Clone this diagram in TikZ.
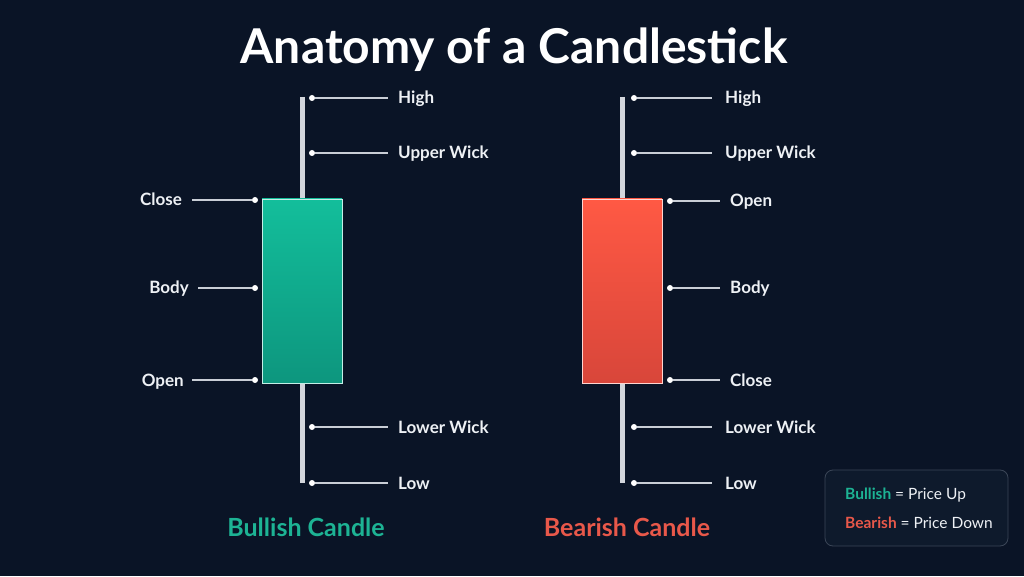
\documentclass[tikz,border=0pt]{standalone}
\usepackage{fontspec}
\setmainfont{Lato}
\usetikzlibrary{positioning}
\definecolor{cBg}{HTML}{0A1426}
\definecolor{cInk}{HTML}{EEF1F5}
\definecolor{cLine}{HTML}{C9CED6}
\definecolor{cWick}{HTML}{D3D6DC}
\definecolor{cBullTop}{HTML}{13BE9B}
\definecolor{cBullBot}{HTML}{0D967E}
\definecolor{cBearTop}{HTML}{FF5944}
\definecolor{cBearBot}{HTML}{D8463A}
\definecolor{cBull}{HTML}{1DB394}
\definecolor{cBear}{HTML}{E8584A}
\definecolor{cKeyEdge}{HTML}{3B4657}
\definecolor{cKeyFill}{HTML}{0E1A2C}
\tikzset{
  candle/.style    = {minimum width=80pt, minimum height=184pt, inner sep=0pt,
                      line width=0.8pt},
  bullbody/.style  = {candle, draw=white!75!cBullTop,
                      top color=cBullTop, bottom color=cBullBot},
  bearbody/.style  = {candle, draw=white!75!cBearTop,
                      top color=cBearTop, bottom color=cBearBot},
  wick/.style      = {draw=cWick, line width=5pt},
  pin/.style       = {circle, fill=white, inner sep=0pt, minimum size=6pt},
  lead/.style      = {draw=cLine, line width=1.1pt},
  partlabel/.style = {text=cInk, font=\fontsize{17}{20}\selectfont\bfseries,
                      inner sep=0pt, text height=12pt, text depth=0pt},
  candlecap/.style = {font=\fontsize{25}{29}\selectfont\bfseries, inner sep=0pt},
  keytext/.style   = {text=cInk, font=\fontsize{15.5}{18}\selectfont,
                      inner sep=0pt, anchor=west, text height=11pt, text depth=0pt},
}
\begin{document}
\begin{tikzpicture}[x=1pt, y=1pt]
  \fill[cBg] (0,0) rectangle (1024,576);
  \useasboundingbox (0,0) rectangle (1024,576);
  \node[text=white, font=\fontsize{48}{53}\selectfont\bfseries, anchor=base,
        inner sep=0pt] (title) at (514,512) {Anatomy of a Candlestick};

  % bullish candle
  \coordinate (bTop) at (302,479);
  \coordinate (bBot) at (302,93);
  \draw[wick] (bTop) -- (bBot);
  \node[bullbody] (bBody) at (302,285) {};
  \node[pin] (bHighDot) at (312,478) {};
  \node[partlabel, anchor=west] (bHigh) at (398,478) {High};
  \draw[lead, shorten >=10pt] (bHighDot) -- (bHigh.west);
  \node[pin] (bUpDot) at (312,423) {};
  \node[partlabel, anchor=west] (bUp) at (398,423) {Upper Wick};
  \draw[lead, shorten >=10pt] (bUpDot) -- (bUp.west);
  \node[pin] (bLwDot) at (312,149) {};
  \node[partlabel, anchor=west] (bLw) at (398,149) {Lower Wick};
  \draw[lead, shorten >=10pt] (bLwDot) -- (bLw.west);
  \node[pin] (bLowDot) at (312,93) {};
  \node[partlabel, anchor=west] (bLow) at (398,93) {Low};
  \draw[lead, shorten >=10pt] (bLowDot) -- (bLow.west);
  \node[pin] (bCloseDot) at (255,376) {};
  \node[partlabel, anchor=east] (bClose) at (182,376) {Close};
  \draw[lead, shorten <=10pt] (bClose.east) -- (bCloseDot);
  \node[pin] (bMidDot) at (255,288) {};
  \node[partlabel, anchor=east] (bMid) at (189,288) {Body};
  \draw[lead, shorten <=9pt] (bMid.east) -- (bMidDot);
  \node[pin] (bOpenDot) at (255,196) {};
  \node[partlabel, anchor=east] (bOpen) at (184,196) {Open};
  \draw[lead, shorten <=8pt] (bOpen.east) -- (bOpenDot);
  \node[candlecap, text=cBull] (bCap) at (306,49) {Bullish Candle};

  % bearish candle
  \coordinate (rTop) at (622,479);
  \coordinate (rBot) at (622,93);
  \draw[wick] (rTop) -- (rBot);
  \node[bearbody] (rBody) at (622,285) {};
  \node[pin] (rHighDot) at (634,478) {};
  \node[partlabel, anchor=west] (rHigh) at (725,478) {High};
  \draw[lead, shorten >=13pt] (rHighDot) -- (rHigh.west);
  \node[pin] (rUpDot) at (634,423) {};
  \node[partlabel, anchor=west] (rUp) at (725,423) {Upper Wick};
  \draw[lead, shorten >=13pt] (rUpDot) -- (rUp.west);
  \node[pin] (rLwDot) at (634,149) {};
  \node[partlabel, anchor=west] (rLw) at (725,149) {Lower Wick};
  \draw[lead, shorten >=13pt] (rLwDot) -- (rLw.west);
  \node[pin] (rLowDot) at (634,93) {};
  \node[partlabel, anchor=west] (rLow) at (725,93) {Low};
  \draw[lead, shorten >=13pt] (rLowDot) -- (rLow.west);
  \node[pin] (rOpenDot) at (670,375) {};
  \node[partlabel, anchor=west] (rOpen) at (730,375) {Open};
  \draw[lead, shorten >=10pt] (rOpenDot) -- (rOpen.west);
  \node[pin] (rMidDot) at (670,288) {};
  \node[partlabel, anchor=west] (rMid) at (730,288) {Body};
  \draw[lead, shorten >=10pt] (rMidDot) -- (rMid.west);
  \node[pin] (rCloseDot) at (670,196) {};
  \node[partlabel, anchor=west] (rClose) at (730,196) {Close};
  \draw[lead, shorten >=10pt] (rCloseDot) -- (rClose.west);
  \node[candlecap, text=cBear] (rCap) at (627,49) {Bearish Candle};

  % legend
  \node[draw=cKeyEdge, fill=cKeyFill, rounded corners=8pt, line width=0.8pt,
        minimum width=183pt, minimum height=76pt] (key) at (916.5,68) {};
  \node[keytext] (kBull) at (845,82)
    {\textcolor{cBull}{\bfseries Bullish} = Price Up};
  \node[keytext] (kBear) at (845,53)
    {\textcolor{cBear}{\bfseries Bearish} = Price Down};
\end{tikzpicture}
\end{document}
